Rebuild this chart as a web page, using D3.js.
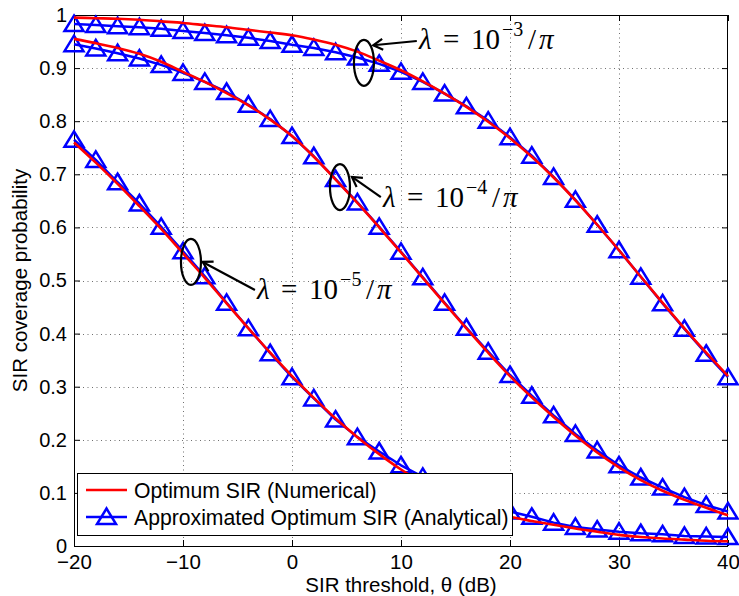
<!DOCTYPE html>
<html>
<head>
<meta charset="utf-8">
<script src="https://cdn.jsdelivr.net/npm/d3@7"></script>
<style>
  html, body { margin: 0; padding: 0; background: #fff; }
  svg { display: block; }
</style>
</head>
<body>
<svg id="chart" width="739" height="596"></svg>
<script>
// ---------------- DATA ----------------
const theta = [-20,-18,-16,-14,-12,-10,-8,-6,-4,-2,0,2,4,6,8,10,12,14,16,18,20,22,24,26,28,30,32,34,36,38,40];

// lambda = 1e-3/pi
const numerical1  = [0.995,0.994,0.993,0.991,0.988,0.985,0.981,0.977,0.972,0.967,0.962,0.954,0.944,0.931,0.914,0.896,0.875,0.852,0.827,0.799,0.768,0.733,0.694,0.651,0.605,0.557,0.507,0.458,0.410,0.364,0.320];
const analytical1 = [0.983,0.981,0.979,0.977,0.974,0.970,0.966,0.962,0.957,0.951,0.944,0.938,0.930,0.920,0.908,0.893,0.874,0.852,0.828,0.801,0.770,0.735,0.695,0.652,0.605,0.557,0.507,0.457,0.409,0.362,0.318];
// lambda = 1e-4/pi
const numerical2  = [0.955,0.947,0.938,0.927,0.912,0.893,0.874,0.853,0.830,0.803,0.772,0.733,0.690,0.646,0.600,0.553,0.505,0.457,0.410,0.364,0.320,0.280,0.243,0.208,0.176,0.148,0.124,0.104,0.087,0.072,0.058];
const analytical2 = [0.945,0.937,0.928,0.918,0.906,0.891,0.874,0.855,0.831,0.804,0.772,0.734,0.691,0.647,0.601,0.554,0.506,0.458,0.411,0.366,0.322,0.283,0.246,0.211,0.180,0.152,0.129,0.110,0.092,0.077,0.065];
// lambda = 1e-5/pi
const numerical3  = [0.760,0.722,0.682,0.640,0.597,0.551,0.505,0.457,0.410,0.364,0.320,0.279,0.240,0.205,0.173,0.144,0.119,0.098,0.080,0.066,0.055,0.047,0.040,0.033,0.027,0.021,0.017,0.014,0.012,0.010,0.009];
const analytical3 = [0.765,0.727,0.685,0.645,0.601,0.555,0.508,0.458,0.410,0.363,0.318,0.278,0.238,0.205,0.178,0.152,0.130,0.110,0.092,0.077,0.065,0.055,0.044,0.036,0.031,0.027,0.024,0.022,0.019,0.018,0.017];

const xTicks = [-20,-10,0,10,20,30,40];
const xTickLabels = ["\u221220","\u221210","0","10","20","30","40"];
const yTicks = [0,0.1,0.2,0.3,0.4,0.5,0.6,0.7,0.8,0.9,1];
const yTickLabels = ["0","0.1","0.2","0.3","0.4","0.5","0.6","0.7","0.8","0.9","1"];

const legendLabels = ["Optimum SIR (Numerical)", "Approximated Optimum SIR (Analytical)"];
const xTitle = "SIR threshold, \u03B8 (dB)";
const yTitle = "SIR coverage probability";

// annotation anchors in data units: ellipse centre, arrow start, arrow tip, text origin
const annExp = ["\u22123", "\u22124", "\u22125"];
const annEllipse = [[6.6,0.910],[4.4,0.676],[-9.27,0.535]];
const annArrowFrom = [[11.45,0.951],[8.15,0.657],[-3.4,0.482]];
const annArrowTo = [[7.45,0.943],[5.5,0.695],[-8.2,0.535]];
const annText = [[11.65,0.936],[8.35,0.638],[-3.2,0.465]];

// ---------------- LAYOUT ----------------
const L = 74, R = 728, T = 15, B = 546;
const svg = d3.select("#chart");

const x = d3.scaleLinear().domain([-20, 40]).range([L, R]);
const y = d3.scaleLinear().domain([0, 1]).range([B, T]);

const sans = "'Liberation Sans', Arial, Helvetica, sans-serif";
const serif = "'Liberation Serif', 'Times New Roman', serif";

// grid
const grid = svg.append("g").attr("stroke", "#707070").attr("stroke-width", 1)
  .attr("stroke-dasharray", "1,3.5").attr("fill", "none");
grid.selectAll("line.gx").data(xTicks.filter(d => d > -20 && d < 40)).join("line")
  .attr("class", "gx")
  .attr("x1", d => Math.round(x(d)) + 0.5).attr("x2", d => Math.round(x(d)) + 0.5)
  .attr("y1", T).attr("y2", B);
grid.selectAll("line.gy").data(yTicks.filter(d => d > 0 && d < 1)).join("line")
  .attr("class", "gy")
  .attr("y1", d => Math.round(y(d)) + 0.5).attr("y2", d => Math.round(y(d)) + 0.5)
  .attr("x1", L).attr("x2", R);

// axes (ticks inward)
const tickLen = 6;
svg.append("g").attr("transform", `translate(0,${B})`)
  .call(d3.axisBottom(x).tickValues(xTicks).tickSize(-tickLen).tickPadding(8)
    .tickFormat((d, i) => xTickLabels[i]))
  .call(g => { g.select(".domain").remove(); })
  .call(g => g.selectAll("text").attr("font-family", sans).attr("font-size", 20.5).attr("fill", "#000").attr("dy", "0.71em"))
  .call(g => g.selectAll("line").attr("stroke", "#000"));
svg.append("g").attr("transform", `translate(0,${T})`)
  .call(d3.axisTop(x).tickValues(xTicks).tickSize(-tickLen).tickFormat(""))
  .call(g => g.select(".domain").remove())
  .call(g => g.selectAll("line").attr("stroke", "#000"));
svg.append("g").attr("transform", `translate(${L},0)`)
  .call(d3.axisLeft(y).tickValues(yTicks).tickSize(-tickLen).tickPadding(7)
    .tickFormat((d, i) => yTickLabels[i]))
  .call(g => g.select(".domain").remove())
  .call(g => g.selectAll("text").attr("font-family", sans).attr("font-size", 20).attr("fill", "#000"))
  .call(g => g.selectAll("line").attr("stroke", "#000"));
svg.append("g").attr("transform", `translate(${R},0)`)
  .call(d3.axisRight(y).tickValues(yTicks).tickSize(-tickLen).tickFormat(""))
  .call(g => g.select(".domain").remove())
  .call(g => g.selectAll("line").attr("stroke", "#000"));
svg.append("rect").attr("x", L + 0.5).attr("y", T + 0.5)
  .attr("width", R - L - 1).attr("height", B - T)
  .attr("fill", "none").attr("stroke", "#000").attr("stroke-width", 1);

// titles
svg.append("text").attr("x", (L + R) / 2).attr("y", 592)
  .attr("text-anchor", "middle").attr("font-family", sans).attr("font-size", 20.5)
  .text(xTitle);
svg.append("text").attr("transform", `translate(27,${(T + B) / 2}) rotate(-90)`)
  .attr("text-anchor", "middle").attr("font-family", sans).attr("font-size", 20.5)
  .text(yTitle);

// ---------------- SERIES ----------------
const analytical = [analytical1, analytical2, analytical3];
const numerical = [numerical1, numerical2, numerical3];
const blue = "#0000ff", red = "#ff0000";
const triPath = "M0,-8.5L9.5,7L-9.5,7Z";

const lineA = d3.line().x((d, i) => x(theta[i])).y(d => y(d));
const lineN = d3.line().x((d, i) => x(theta[i])).y(d => y(d)).curve(d3.curveMonotoneX);

const gA = svg.append("g");
analytical.forEach(s => {
  gA.append("path").attr("d", lineA(s)).attr("fill", "none")
    .attr("stroke", blue).attr("stroke-width", 2.5).attr("stroke-linejoin", "round");
  gA.append("g").selectAll("path").data(s).join("path")
    .attr("d", triPath)
    .attr("transform", (d, i) => `translate(${x(theta[i])},${y(d)})`)
    .attr("fill", "none").attr("stroke", blue).attr("stroke-width", 2.5)
    .attr("stroke-linejoin", "miter");
});
const gN = svg.append("g");
numerical.forEach(s => {
  gN.append("path").attr("d", lineN(s)).attr("fill", "none")
    .attr("stroke", red).attr("stroke-width", 2.6).attr("stroke-linejoin", "round");
});

// ---------------- ANNOTATIONS ----------------
const gAnn = svg.append("g");
annExp.forEach((e, k) => {
  const [ex, ey] = [x(annEllipse[k][0]), y(annEllipse[k][1])];
  gAnn.append("ellipse").attr("cx", ex).attr("cy", ey).attr("rx", 10).attr("ry", 23)
    .attr("fill", "none").attr("stroke", "#000").attr("stroke-width", 2.2);
  const x0 = x(annArrowFrom[k][0]), y0 = y(annArrowFrom[k][1]);
  const x1 = x(annArrowTo[k][0]), y1 = y(annArrowTo[k][1]);
  gAnn.append("line").attr("x1", x0).attr("y1", y0).attr("x2", x1).attr("y2", y1)
    .attr("stroke", "#000").attr("stroke-width", 2.2);
  const ang = Math.atan2(y0 - y1, x0 - x1);
  const hl = 11, ha = Math.PI / 6;
  gAnn.append("path")
    .attr("d", `M${x1 + hl * Math.cos(ang - ha)},${y1 + hl * Math.sin(ang - ha)}L${x1},${y1}L${x1 + hl * Math.cos(ang + ha)},${y1 + hl * Math.sin(ang + ha)}`)
    .attr("fill", "none").attr("stroke", "#000").attr("stroke-width", 2.2);

  const tx = x(annText[k][0]), ty = y(annText[k][1]);
  const t = gAnn.append("text").attr("font-family", serif).attr("font-size", 29).attr("fill", "#000");
  t.append("tspan").attr("x", tx).attr("y", ty).attr("font-style", "italic").text("\u03BB");
  t.append("tspan").attr("x", tx + 24).attr("y", ty).text("=");
  t.append("tspan").attr("x", tx + 52).attr("y", ty).text("10");
  t.append("tspan").attr("x", tx + 83).attr("y", ty - 13).attr("font-size", 20).text(e);
  t.append("tspan").attr("x", tx + 109).attr("y", ty).text("/");
  t.append("tspan").attr("x", tx + 120).attr("y", ty).attr("font-style", "italic").text("\u03C0");
});

// ---------------- LEGEND ----------------
const lg = svg.append("g");
lg.append("rect").attr("x", 77.5).attr("y", 473.5).attr("width", 435).attr("height", 62)
  .attr("fill", "#fff").attr("stroke", "#000").attr("stroke-width", 1);
const rowY = [490, 517];
lg.append("line").attr("x1", 86).attr("x2", 127).attr("y1", rowY[0]).attr("y2", rowY[0])
  .attr("stroke", red).attr("stroke-width", 2.6);
lg.append("line").attr("x1", 86).attr("x2", 127).attr("y1", rowY[1]).attr("y2", rowY[1])
  .attr("stroke", blue).attr("stroke-width", 2.5);
lg.append("path").attr("d", triPath).attr("transform", `translate(106.5,${rowY[1]})`)
  .attr("fill", "none").attr("stroke", blue).attr("stroke-width", 2.5);
legendLabels.forEach((lab, i) => {
  lg.append("text").attr("x", 134).attr("y", rowY[i] + 7.5)
    .attr("font-family", sans).attr("font-size", 21.2).text(lab);
});
</script>
</body>
</html>
